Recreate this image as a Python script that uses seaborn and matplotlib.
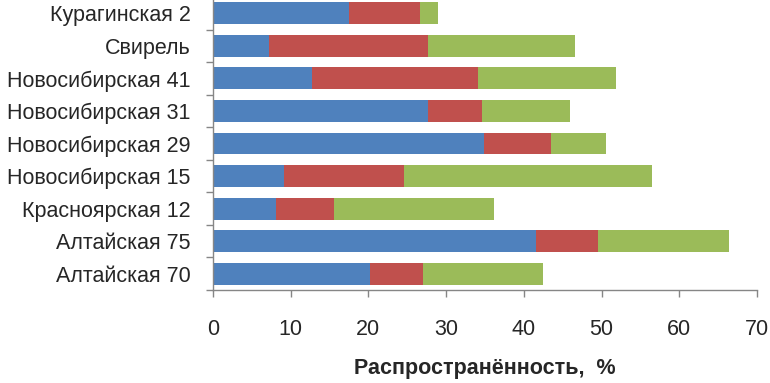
import matplotlib
matplotlib.use("Agg")
import matplotlib.pyplot as plt
import seaborn as sns
import pandas as pd
import numpy as np

# data (values in %)
stations = ['Курагинская 2', 'Свирель', 'Новосибирская 41', 'Новосибирская 31',
            'Новосибирская 29', 'Новосибирская 15', 'Красноярская 12',
            'Алтайская 75', 'Алтайская 70']
part_blue = [17.5, 7.2, 12.7, 27.7, 34.9, 9.2, 8.1, 41.6, 20.2]
part_red = [9.1, 20.5, 21.4, 6.9, 8.6, 15.4, 7.5, 7.9, 6.8]
part_green = [2.4, 18.9, 17.8, 11.3, 7.1, 31.9, 20.5, 16.9, 15.4]
xticks = [0, 10, 20, 30, 40, 50, 60, 70]

colors = {'blue': '#4F81BD', 'red': '#C0504D', 'green': '#9BBB59'}

df = pd.DataFrame({'station': stations, 'blue': part_blue,
                   'red': part_red, 'green': part_green})
df['cum_red'] = df['blue'] + df['red']
df['cum_green'] = df['cum_red'] + df['green']

sns.set_style("white")
plt.rcParams['font.family'] = ['Liberation Sans', 'DejaVu Sans']

fig = plt.figure(figsize=(7.7, 3.83), dpi=100)
ax = fig.add_axes([213/770, 93/383, 544/770, 293/383])

# stacked bars: draw totals first, then overlay shorter parts
for col, c in [('cum_green', 'green'), ('cum_red', 'red'), ('blue', 'blue')]:
    sns.barplot(data=df, x=col, y='station', color=colors[c], width=0.67,
                saturation=1, linewidth=0, ax=ax, order=stations)

ax.set_xlim(0, 70)
ax.set_ylim(len(stations) - 0.5, -0.5)
ax.set_xticks(xticks)
ax.set_xticklabels([str(t) for t in xticks], fontsize=15.5)
ax.tick_params(axis='x', bottom=True, direction='out', length=5, width=1,
               color='#868686', pad=16)
ax.tick_params(axis='y', which='major', length=0, labelsize=15.5, pad=16)
ax.set_yticks(np.arange(len(stations) + 1) - 0.5, minor=True)
ax.tick_params(axis='y', which='minor', left=True, direction='out', length=5,
               width=1, color='#868686')

for side in ['top', 'right']:
    ax.spines[side].set_visible(False)
for side in ['left', 'bottom']:
    ax.spines[side].set_color('#868686')
    ax.spines[side].set_linewidth(1)

ax.set_ylabel('')
ax.set_xlabel('Распространённость,  %', fontsize=15.5, fontweight='bold', labelpad=13)

fig.savefig('out.png', dpi=100)
